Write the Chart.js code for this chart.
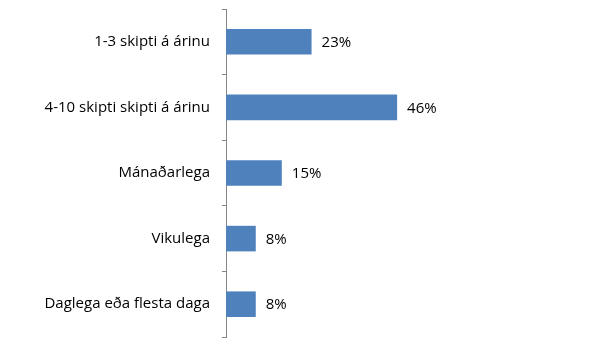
<!DOCTYPE html>
<html>
<head>
<meta charset="utf-8">
<script src="https://cdn.jsdelivr.net/npm/chart.js@4/dist/chart.umd.min.js"></script>
<style>
  html, body { margin: 0; padding: 0; background: #fff; }
  #wrap { width: 599px; height: 360px; }
</style>
</head>
<body>
<div id="wrap"><canvas id="chart"></canvas></div>
<script>
const categories = [
  "1-3 skipti á árinu",
  "4-10 skipti skipti á árinu",
  "Mánaðarlega",
  "Vikulega",
  "Daglega eða flesta daga"
];
const shares = [23, 46, 15, 8, 8];

const labelFont = "Open Sans";

// draw the "23%" labels just past the bar ends
const valueLabels = {
  id: "valueLabels",
  afterDatasetsDraw(chart) {
    const ctx = chart.ctx;
    const meta = chart.getDatasetMeta(0);
    ctx.save();
    ctx.font = "15px '" + labelFont + "'";
    ctx.fillStyle = "#000";
    ctx.textBaseline = "middle";
    ctx.textAlign = "left";
    meta.data.forEach(function (bar, i) {
      ctx.fillText(shares[i] + "%", bar.x + 10, bar.y + 1);
    });
    ctx.restore();
  }
};

new Chart(document.getElementById("chart"), {
  type: "bar",
  data: {
    labels: categories,
    datasets: [{
      data: shares,
      backgroundColor: "#4f81bd",
      barPercentage: 1,
      categoryPercentage: 0.39
    }]
  },
  options: {
    indexAxis: "y",
    responsive: true,
    maintainAspectRatio: false,
    animation: false,
    layout: { padding: { top: 9, bottom: 23, left: 0, right: 1 } },
    plugins: {
      legend: { display: false },
      tooltip: { enabled: false }
    },
    scales: {
      x: {
        display: false,
        min: 0,
        max: 100
      },
      y: {
        offset: true,
        afterFit: function (scale) {
          scale.width = 226;
          scale.paddingTop = 0;
          scale.paddingBottom = 0;
        },
        grid: {
          offset: true,
          drawOnChartArea: false,
          tickLength: 4,
          color: "#868686"
        },
        border: { color: "#868686", width: 1 },
        ticks: {
          padding: 12,
          color: "#000",
          font: { family: labelFont, size: 15 }
        }
      }
    }
  },
  plugins: [valueLabels]
});
</script>
</body>
</html>
